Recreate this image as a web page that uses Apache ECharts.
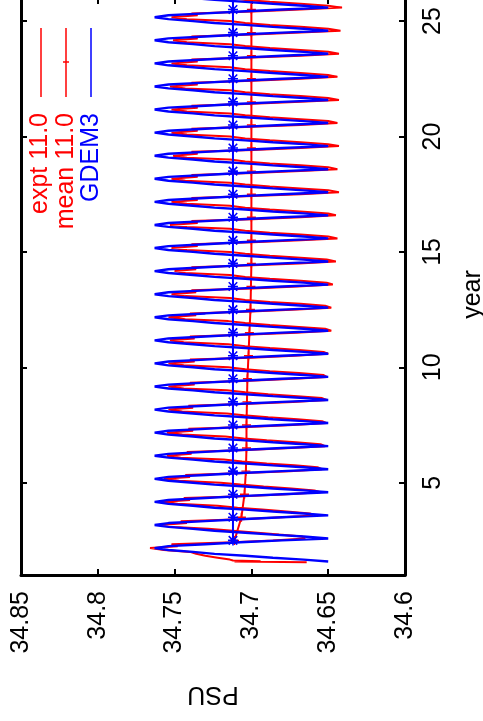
<!DOCTYPE html>
<html>
<head>
<meta charset="utf-8">
<script src="https://cdn.jsdelivr.net/npm/echarts@6/dist/echarts.min.js"></script>
<style>
html,body{margin:0;padding:0;background:#fff;overflow:hidden;width:483px;height:721px;}
#chart{position:absolute;left:0;top:0;width:483px;height:721px;}
</style>
</head>
<body>
<div id="chart"></div>
<script>
// ---- data ----
const psuTicks = [34.6, 34.65, 34.7, 34.75, 34.8, 34.85];
const yearTicks = [5, 10, 15, 20, 25];

// GDEM3 monthly climatology (phase k/12 of each year)
const gdemClim = [34.738, 34.754, 34.763, 34.754, 34.730, 34.707, 34.680, 34.650, 34.666, 34.686, 34.704, 34.724];
const gdemStartYear = 1 + 7 / 12;
const gdemEndYear = 26;

// expt 11.0 : first partial year
const exptEarlyT = [1.55, 1.58, 1.60, 1.625, 1.667, 1.75, 1.833, 1.917];
const exptEarlyS = [34.664, 34.711, 34.694, 34.712, 34.714, 34.722, 34.730, 34.736];
// expt 11.0 : monthly values, one row per year starting at year 2 (phase k/12)
const exptFirstRowYear = 2;
const exptRows = [
  [34.740, 34.757, 34.766, 34.748, 34.752, 34.712, 34.686, 34.665, 34.667, 34.682, 34.696, 34.712],
  [34.728, 34.750, 34.759, 34.742, 34.746, 34.707, 34.680, 34.660, 34.662, 34.677, 34.693, 34.709],
  [34.722, 34.748, 34.758, 34.740, 34.744, 34.705, 34.677, 34.655, 34.659, 34.674, 34.692, 34.707],
  [34.720, 34.747, 34.757, 34.740, 34.743, 34.704, 34.675, 34.654, 34.657, 34.672, 34.690, 34.706],
  [34.718, 34.746, 34.755, 34.739, 34.742, 34.703, 34.674, 34.652, 34.655, 34.671, 34.690, 34.705],
  [34.717, 34.745, 34.755, 34.738, 34.741, 34.702, 34.673, 34.651, 34.654, 34.670, 34.689, 34.705],
  [34.716, 34.745, 34.754, 34.738, 34.741, 34.701, 34.673, 34.651, 34.654, 34.670, 34.689, 34.704],
  [34.716, 34.744, 34.754, 34.737, 34.740, 34.701, 34.672, 34.651, 34.653, 34.669, 34.688, 34.704],
  [34.715, 34.744, 34.754, 34.737, 34.740, 34.700, 34.672, 34.650, 34.653, 34.669, 34.688, 34.704],
  [34.715, 34.744, 34.753, 34.737, 34.740, 34.700, 34.671, 34.648, 34.652, 34.669, 34.688, 34.704],
  [34.715, 34.743, 34.754, 34.736, 34.740, 34.700, 34.670, 34.648, 34.652, 34.668, 34.688, 34.704],
  [34.714, 34.743, 34.752, 34.736, 34.739, 34.699, 34.670, 34.647, 34.651, 34.668, 34.688, 34.704],
  [34.714, 34.743, 34.750, 34.736, 34.739, 34.699, 34.669, 34.645, 34.651, 34.668, 34.688, 34.704],
  [34.714, 34.742, 34.752, 34.735, 34.739, 34.699, 34.668, 34.644, 34.650, 34.668, 34.688, 34.704],
  [34.714, 34.742, 34.753, 34.735, 34.739, 34.699, 34.668, 34.645, 34.650, 34.668, 34.688, 34.704],
  [34.714, 34.742, 34.752, 34.735, 34.739, 34.699, 34.668, 34.643, 34.650, 34.668, 34.688, 34.704],
  [34.714, 34.743, 34.752, 34.735, 34.739, 34.699, 34.668, 34.644, 34.650, 34.668, 34.688, 34.704],
  [34.714, 34.742, 34.751, 34.735, 34.739, 34.699, 34.668, 34.643, 34.650, 34.668, 34.688, 34.704],
  [34.714, 34.742, 34.752, 34.735, 34.739, 34.699, 34.668, 34.644, 34.650, 34.668, 34.688, 34.704],
  [34.714, 34.742, 34.752, 34.735, 34.739, 34.699, 34.668, 34.643, 34.650, 34.668, 34.688, 34.704],
  [34.714, 34.743, 34.753, 34.735, 34.739, 34.699, 34.668, 34.644, 34.650, 34.668, 34.688, 34.704],
  [34.714, 34.742, 34.752, 34.735, 34.739, 34.699, 34.668, 34.643, 34.650, 34.668, 34.688, 34.704],
  [34.714, 34.742, 34.751, 34.735, 34.739, 34.699, 34.668, 34.642, 34.650, 34.668, 34.688, 34.704],
  [34.714, 34.742, 34.752, 34.735, 34.739, 34.699, 34.668, 34.641, 34.650, 34.668, 34.688, 34.704]
];
const exptLastT = 26;
const exptLastS = 34.714;

// annual means
const meanYears = [2.5, 3.5, 4.5, 5.5, 6.5, 7.5, 8.5, 9.5, 10.5, 11.5, 12.5, 13.5, 14.5, 15.5, 16.5, 17.5, 18.5, 19.5, 20.5, 21.5, 22.5, 23.5, 24.5, 25.5, 26.5];
const exptMean = [34.7110, 34.7065, 34.7045, 34.7036, 34.7032, 34.7032, 34.7029, 34.7026, 34.7019, 34.7013, 34.7006, 34.7003, 34.7000, 34.7000, 34.7000, 34.7000, 34.7000, 34.7000, 34.7000, 34.7000, 34.7000, 34.7000, 34.7000, 34.7000, 34.7000];
const gdemMean = [34.712, 34.712, 34.712, 34.712, 34.712, 34.712, 34.712, 34.712, 34.712, 34.712, 34.712, 34.712, 34.712, 34.712, 34.712, 34.712, 34.712, 34.712, 34.712, 34.712, 34.712, 34.712, 34.712, 34.712, 34.712];

const seriesNames = ['expt 11.0', 'mean 11.0', 'GDEM3'];

// ---- build series data ----
const gdemData = [];
for (let n = 1; n <= gdemEndYear; n++) {
  for (let k = 0; k < 12; k++) {
    const t = n + k / 12;
    if (t >= gdemStartYear - 1e-9 && t <= gdemEndYear + 1e-9) gdemData.push([gdemClim[k], t]);
  }
}
const exptData = [];
exptEarlyT.forEach((t, i) => exptData.push([exptEarlyS[i], t]));
exptRows.forEach((row, i) => {
  const n = exptFirstRowYear + i;
  row.forEach((v, k) => exptData.push([v, n + k / 12]));
});
exptData.push([exptLastS, exptLastT]);
const exptMeanData = meanYears.map((t, i) => [exptMean[i], t]);
const gdemMeanData = meanYears.map((t, i) => [gdemMean[i], t]);

// ---- chart ----
const FONT = 'Liberation Sans';
const RED = '#ff0000', BLUE = '#0000ff';
const plusPath = 'path://M0,4.2 L10,4.2 L10,5.8 L0,5.8 Z M4.2,0 L5.8,0 L5.8,10 L4.2,10 Z';
const starPath = 'path://M0,4.2 L10,4.2 L10,5.8 L0,5.8 Z M4.2,0 L5.8,0 L5.8,10 L4.2,10 Z M1.3,0.2 L9.8,8.7 L8.7,9.8 L0.2,1.3 Z M8.7,0.2 L9.8,1.3 L1.3,9.8 L0.2,8.7 Z';

const chart = echarts.init(document.getElementById('chart'), null, {renderer: 'canvas', width: 483, height: 721});

const axisCommonX = {
  type: 'value', min: 34.6, max: 34.85, inverse: true,
  splitLine: {show: false},
  axisLine: {show: true, onZero: false, lineStyle: {color: '#000', width: 3}},
  axisTick: {show: true, inside: true, length: 6, customValues: psuTicks, lineStyle: {color: '#000', width: 2}}
};
const axisCommonY = {
  type: 'value', min: 1, max: 26,
  splitLine: {show: false},
  axisLine: {show: true, onZero: false, lineStyle: {color: '#000', width: 3}},
  axisTick: {show: true, inside: true, length: 6, customValues: yearTicks, lineStyle: {color: '#000', width: 2}}
};

chart.setOption({
  animation: false,
  backgroundColor: '#fff',
  grid: {left: 21, right: 78, top: -2, bottom: 146, containLabel: false, outerBoundsMode: 'none'},
  xAxis: [
    Object.assign({}, axisCommonX, {
      position: 'bottom',
      name: 'PSU', nameLocation: 'middle', nameGap: 106, nameRotate: 180,
      nameTextStyle: {fontFamily: FONT, fontSize: 25, color: '#000'},
      axisLabel: {show: true, rotate: 90, margin: 16, customValues: psuTicks, fontFamily: FONT, fontSize: 25, color: '#000'}
    }),
    Object.assign({}, axisCommonX, {position: 'top', axisLabel: {show: false}})
  ],
  yAxis: [
    Object.assign({}, axisCommonY, {
      position: 'right',
      name: 'year', nameLocation: 'middle', nameGap: 56, nameRotate: 90,
      nameTextStyle: {fontFamily: FONT, fontSize: 25, color: '#000', padding: [0, 16, 0, 0]},
      axisLabel: {show: true, rotate: 90, margin: 16, customValues: yearTicks, fontFamily: FONT, fontSize: 25, color: '#000'}
    }),
    Object.assign({}, axisCommonY, {position: 'left', axisLabel: {show: false}})
  ],
  series: [
    {name: seriesNames[0], type: 'line', data: exptData, showSymbol: false, clip: true,
     lineStyle: {color: RED, width: 2}, itemStyle: {color: RED}, z: 2},
    {name: seriesNames[1], type: 'line', data: exptMeanData, symbol: plusPath, symbolSize: 9, clip: true,
     lineStyle: {color: RED, width: 2}, itemStyle: {color: RED}, z: 3},
    {name: seriesNames[2], type: 'line', data: gdemData, showSymbol: false, clip: true,
     lineStyle: {color: BLUE, width: 2.4}, itemStyle: {color: BLUE}, z: 4},
    {name: 'GDEM3 mean', type: 'line', data: gdemMeanData, symbol: starPath, symbolSize: 10, clip: true,
     lineStyle: {color: BLUE, width: 2}, itemStyle: {color: BLUE}, z: 5}
  ],
  graphic: [
    {type: 'text', x: 40, y: 113, rotation: Math.PI / 2,
     style: {text: seriesNames[0], fill: RED, font: '25px "Liberation Sans"', align: 'right', verticalAlign: 'middle'}},
    {type: 'text', x: 66, y: 113, rotation: Math.PI / 2,
     style: {text: seriesNames[1], fill: RED, font: '25px "Liberation Sans"', align: 'right', verticalAlign: 'middle'}},
    {type: 'text', x: 91, y: 113, rotation: Math.PI / 2,
     style: {text: seriesNames[2], fill: BLUE, font: '25px "Liberation Sans"', align: 'right', verticalAlign: 'middle'}},
    {type: 'line', shape: {x1: 41, y1: 28, x2: 41, y2: 97}, style: {stroke: RED, lineWidth: 1.5}},
    {type: 'line', shape: {x1: 66, y1: 28, x2: 66, y2: 97}, style: {stroke: RED, lineWidth: 1.5}},
    {type: 'line', shape: {x1: 63, y1: 62, x2: 69, y2: 62}, style: {stroke: RED, lineWidth: 1.5}},
    {type: 'line', shape: {x1: 91, y1: 28, x2: 91, y2: 97}, style: {stroke: BLUE, lineWidth: 1.5}}
  ]
});
</script>
</body>
</html>
